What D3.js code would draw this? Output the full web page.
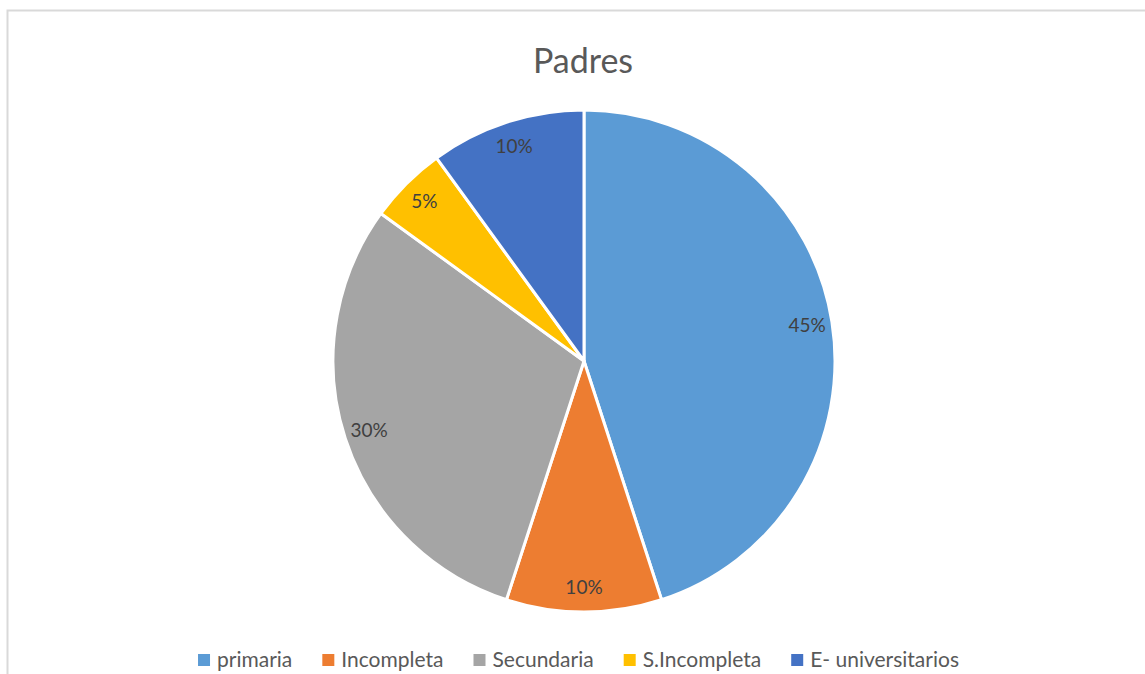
<!DOCTYPE html>
<html><head><meta charset="utf-8">
<script src="https://cdn.jsdelivr.net/npm/d3@7"></script>
<style>body{margin:0;background:#fff;}svg{display:block;}</style>
</head><body>
<svg id="chart" width="1145" height="674"></svg>
<script>
const categories = ["primaria", "Incompleta", "Secundaria", "S.Incompleta", "E- universitarios"];
const values = [45, 10, 30, 5, 10];
const labels = ["45%", "10%", "30%", "5%", "10%"];
const colors = ["#5B9BD5", "#ED7D31", "#A5A5A5", "#FFC000", "#4472C4"];
const title = "Padres";

const svg = d3.select("#chart");
const font = "Lato, 'Open Sans', sans-serif";

// chart border
svg.append("rect").attr("x", 7.5).attr("y", 10.5).attr("width", 1160).attr("height", 700)
  .attr("fill", "#fff").attr("stroke", "#d9d9d9").attr("stroke-width", 2);

svg.append("text").attr("x", 583).attr("y", 73).attr("text-anchor", "middle")
  .attr("font-family", font).attr("font-size", 34).attr("fill", "#595959").text(title);

const cx = 584, cy = 361, r = 251;
const g = svg.append("g").attr("transform", `translate(${cx},${cy})`);
const pie = d3.pie().sort(null).value(d => d)(values);
const arc = d3.arc().innerRadius(0).outerRadius(r);
const labelArc = d3.arc().innerRadius(r * 0.9).outerRadius(r * 0.9);

g.selectAll("path").data(pie).join("path")
  .attr("d", arc).attr("fill", (d, i) => colors[i])
  .attr("stroke", "#fff").attr("stroke-width", 3).attr("stroke-linejoin", "round");

g.selectAll("text.lbl").data(pie).join("text").attr("class", "lbl")
  .attr("transform", d => `translate(${labelArc.centroid(d)})`)
  .attr("text-anchor", "middle").attr("dy", "0.35em")
  .attr("font-family", font).attr("font-size", 19).attr("fill", "#404040")
  .text((d, i) => labels[i]);

// legend
const leg = svg.append("g");
const items = leg.selectAll("g").data(categories).join("g");
items.append("rect").attr("width", 12).attr("height", 12).attr("y", -6)
  .attr("fill", (d, i) => colors[i]);
items.append("text").attr("x", 19).attr("dy", "0.35em")
  .attr("font-family", font).attr("font-size", 21).attr("fill", "#595959").text(d => d);
let x = 0;
const gap = 30;
items.each(function () {
  const w = this.querySelector("text").getComputedTextLength() + 19;
  d3.select(this).attr("transform", `translate(${x},0)`);
  x += w + gap;
});
const total = x - gap;
leg.attr("transform", `translate(${578.5 - total / 2},660)`);
</script>
</body></html>
